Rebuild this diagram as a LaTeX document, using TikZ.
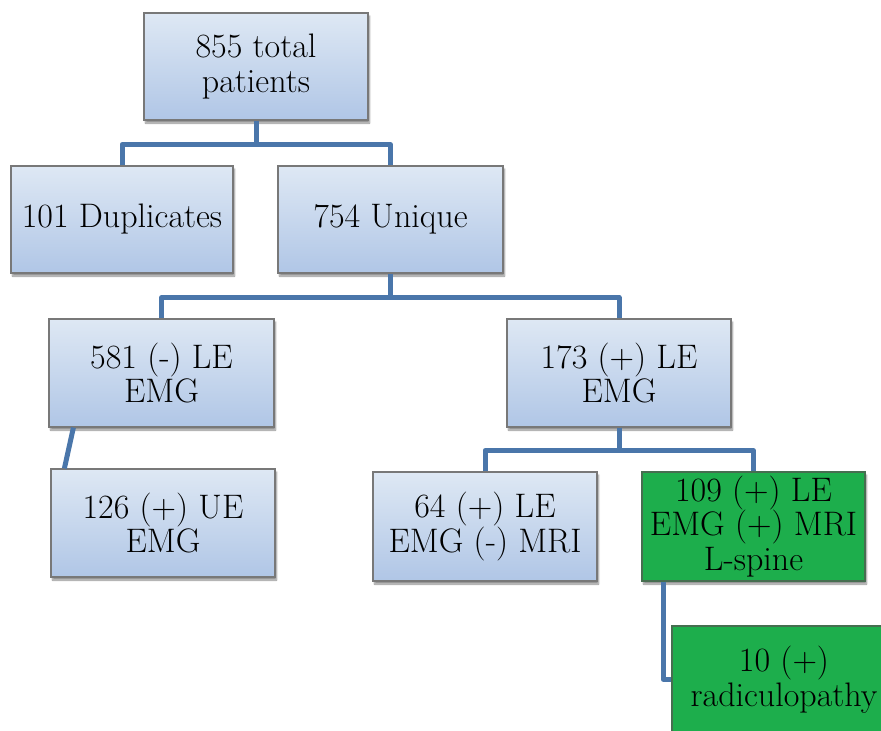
\documentclass[tikz,border=0pt]{standalone}
\usetikzlibrary{calc,shadows.blur}
\definecolor{linkblue}{RGB}{74,118,170}
\definecolor{boxtop}{RGB}{222,232,244}
\definecolor{boxbot}{RGB}{176,198,230}
\definecolor{boxedge}{RGB}{120,120,120}
\definecolor{okgreen}{RGB}{29,174,76}
\definecolor{greenedge}{RGB}{70,110,80}
\tikzset{
  bluebox/.style={rectangle, draw=boxedge, line width=1.2pt, top color=boxtop, bottom color=boxbot,
    minimum width=224pt, minimum height=107pt, align=center, inner sep=0pt,
    font=\fontsize{34}{34.5}\selectfont,
    blur shadow={shadow xshift=1.5pt, shadow yshift=-3pt, shadow blur steps=6, shadow opacity=45}},
  greenbox/.style={bluebox, draw=greenedge, fill=okgreen, top color=okgreen, bottom color=okgreen},
  link/.style={draw=linkblue, line width=5pt, line join=round}
}
\begin{document}
\begin{tikzpicture}[x=1pt,y=-1pt]
\useasboundingbox (0,0) rectangle (881,731);
\clip (0,0) rectangle (881,731);
\node[bluebox] (top) at (256,66.5) {855 total\\patients};
\node[bluebox, minimum width=222pt] (dup) at (122,219.5) {101 Duplicates};
\node[bluebox, minimum width=225pt] (uniq) at (390.5,219.5) {754 Unique};
\node[bluebox, minimum width=225pt, minimum height=108pt] (neg) at (161.5,373) {581 (-) LE\\EMG};
\node[bluebox, minimum height=108pt] (pos) at (619,373) {173 (+) LE\\EMG};
\node[bluebox, minimum height=108pt] (ue) at (163,523) {126 (+) UE\\EMG};
\node[bluebox, minimum height=109pt] (mrineg) at (485,526.5) {64 (+) LE\\EMG (-) MRI};
\node[greenbox, minimum width=223pt, minimum height=109pt] (mripos) at (753.5,526.5) {109 (+) LE\\EMG (+) MRI\\L-spine};
\node[greenbox, minimum height=107pt] (rad) at (784,679.5) {10 (+)\\radiculopathy};
\coordinate (j1) at ($(top.south)+(0,24)$);
\coordinate (j2) at ($(uniq.south)+(0,24)$);
\coordinate (j3) at ($(pos.south)+(0,23)$);
\draw[link] (top.south) -- (j1) -| (dup.north);
\draw[link] (j1) -| (uniq.north);
\draw[link] (uniq.south) -- (j2) -| (neg.north);
\draw[link] (j2) -| (pos.north);
\draw[link] (pos.south) -- (j3) -| (mrineg.north);
\draw[link] (j3) -| (mripos.north);
\draw[link] ($(neg.south west)+(25,0)$) -- ($(ue.north west)+(14,0)$);
\draw[link] ($(mripos.south west)+(22,0)$) |- (rad.west);
\end{tikzpicture}
\end{document}
